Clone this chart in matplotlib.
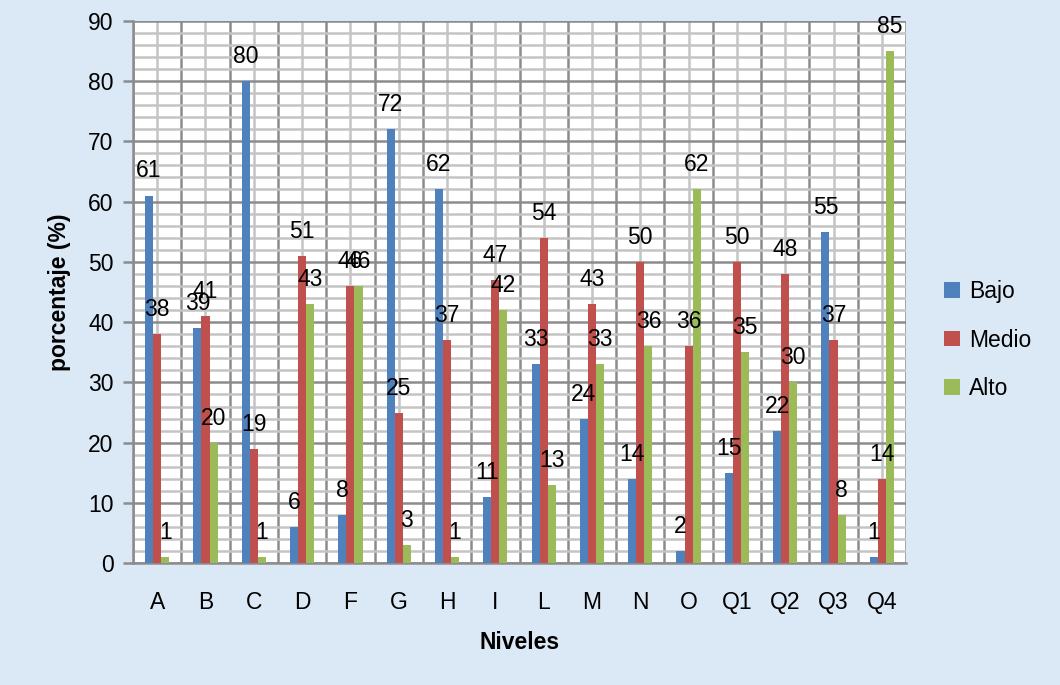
import numpy as np
import matplotlib
matplotlib.use('Agg')
import matplotlib.pyplot as plt
from matplotlib.ticker import MultipleLocator, FixedLocator

niveles = ['A', 'B', 'C', 'D', 'F', 'G', 'H', 'I', 'L', 'M', 'N', 'O', 'Q1', 'Q2', 'Q3', 'Q4']
bajo = [61, 39, 80, 6, 8, 72, 62, 11, 33, 24, 14, 2, 15, 22, 55, 1]
medio = [38, 41, 19, 51, 46, 25, 37, 47, 54, 43, 50, 36, 50, 48, 37, 14]
alto = [1, 20, 1, 43, 46, 3, 1, 42, 13, 33, 36, 62, 35, 30, 8, 85]

series = [('Bajo', bajo, '#4F81BD'), ('Medio', medio, '#C0504D'), ('Alto', alto, '#9BBB59')]

plt.rcParams['font.family'] = ['Liberation Sans', 'DejaVu Sans']
bg = '#dbe8f5'
fs = 16.5

fig = plt.figure(figsize=(10.6, 6.85), dpi=100, facecolor=bg)
ax = fig.add_axes([0.1255, 0.1777, 0.7292, 0.7921])

x = np.arange(len(niveles))
w = 0.167
for i, (name, vals, col) in enumerate(series):
    pos = x + (i - 1) * w
    ax.bar(pos, vals, width=w, color=col, label=name, zorder=3)
    for px, v in zip(pos, vals):
        ax.annotate(str(v), (px, v), xytext=(0, 13), textcoords='offset points',
                    ha='center', va='baseline', fontsize=fs, zorder=4)

ax.set_xlim(-0.5, len(niveles) - 0.5)
ax.set_ylim(0, 90)
ax.set_xticks(x)
ax.set_xticklabels(niveles)
ax.xaxis.set_minor_locator(FixedLocator(np.arange(-0.5, len(niveles), 1)))
ax.yaxis.set_major_locator(MultipleLocator(10))
ax.yaxis.set_minor_locator(MultipleLocator(2))

dark = '#8c8c8c'
light = '#c4c4c4'
ax.grid(which='major', axis='x', color=light, lw=1.8, zorder=0)
ax.grid(which='minor', axis='x', color=dark, lw=1.8, zorder=0)
ax.grid(which='major', axis='y', color=dark, lw=1.8, zorder=0)
ax.grid(which='minor', axis='y', color=light, lw=1.8, zorder=0)

ax.tick_params(axis='x', which='both', length=0, labelsize=fs, pad=20)
ax.tick_params(axis='y', which='major', length=7, width=1.8, color=dark, labelsize=fs, pad=7)
ax.tick_params(axis='y', which='minor', length=0)
for s in ['top', 'right']:
    ax.spines[s].set_visible(False)
for s in ['left', 'bottom']:
    ax.spines[s].set_color(dark)
    ax.spines[s].set_linewidth(1.8)

ax.set_xlabel('Niveles', fontsize=fs, fontweight='bold', labelpad=12)
ax.set_ylabel('porcentaje (%)', fontsize=fs, fontweight='bold', labelpad=12)

handles, labels = ax.get_legend_handles_labels()
fig.legend(handles, labels, loc='center left', bbox_to_anchor=(944 / 1060, 1 - 340 / 685),
           frameon=False, fontsize=fs, handlelength=0.68, handleheight=0.68,
           labelspacing=1.1, handletextpad=0.4, borderpad=0, borderaxespad=0)

fig.savefig('out.png', dpi=100, facecolor=bg)
